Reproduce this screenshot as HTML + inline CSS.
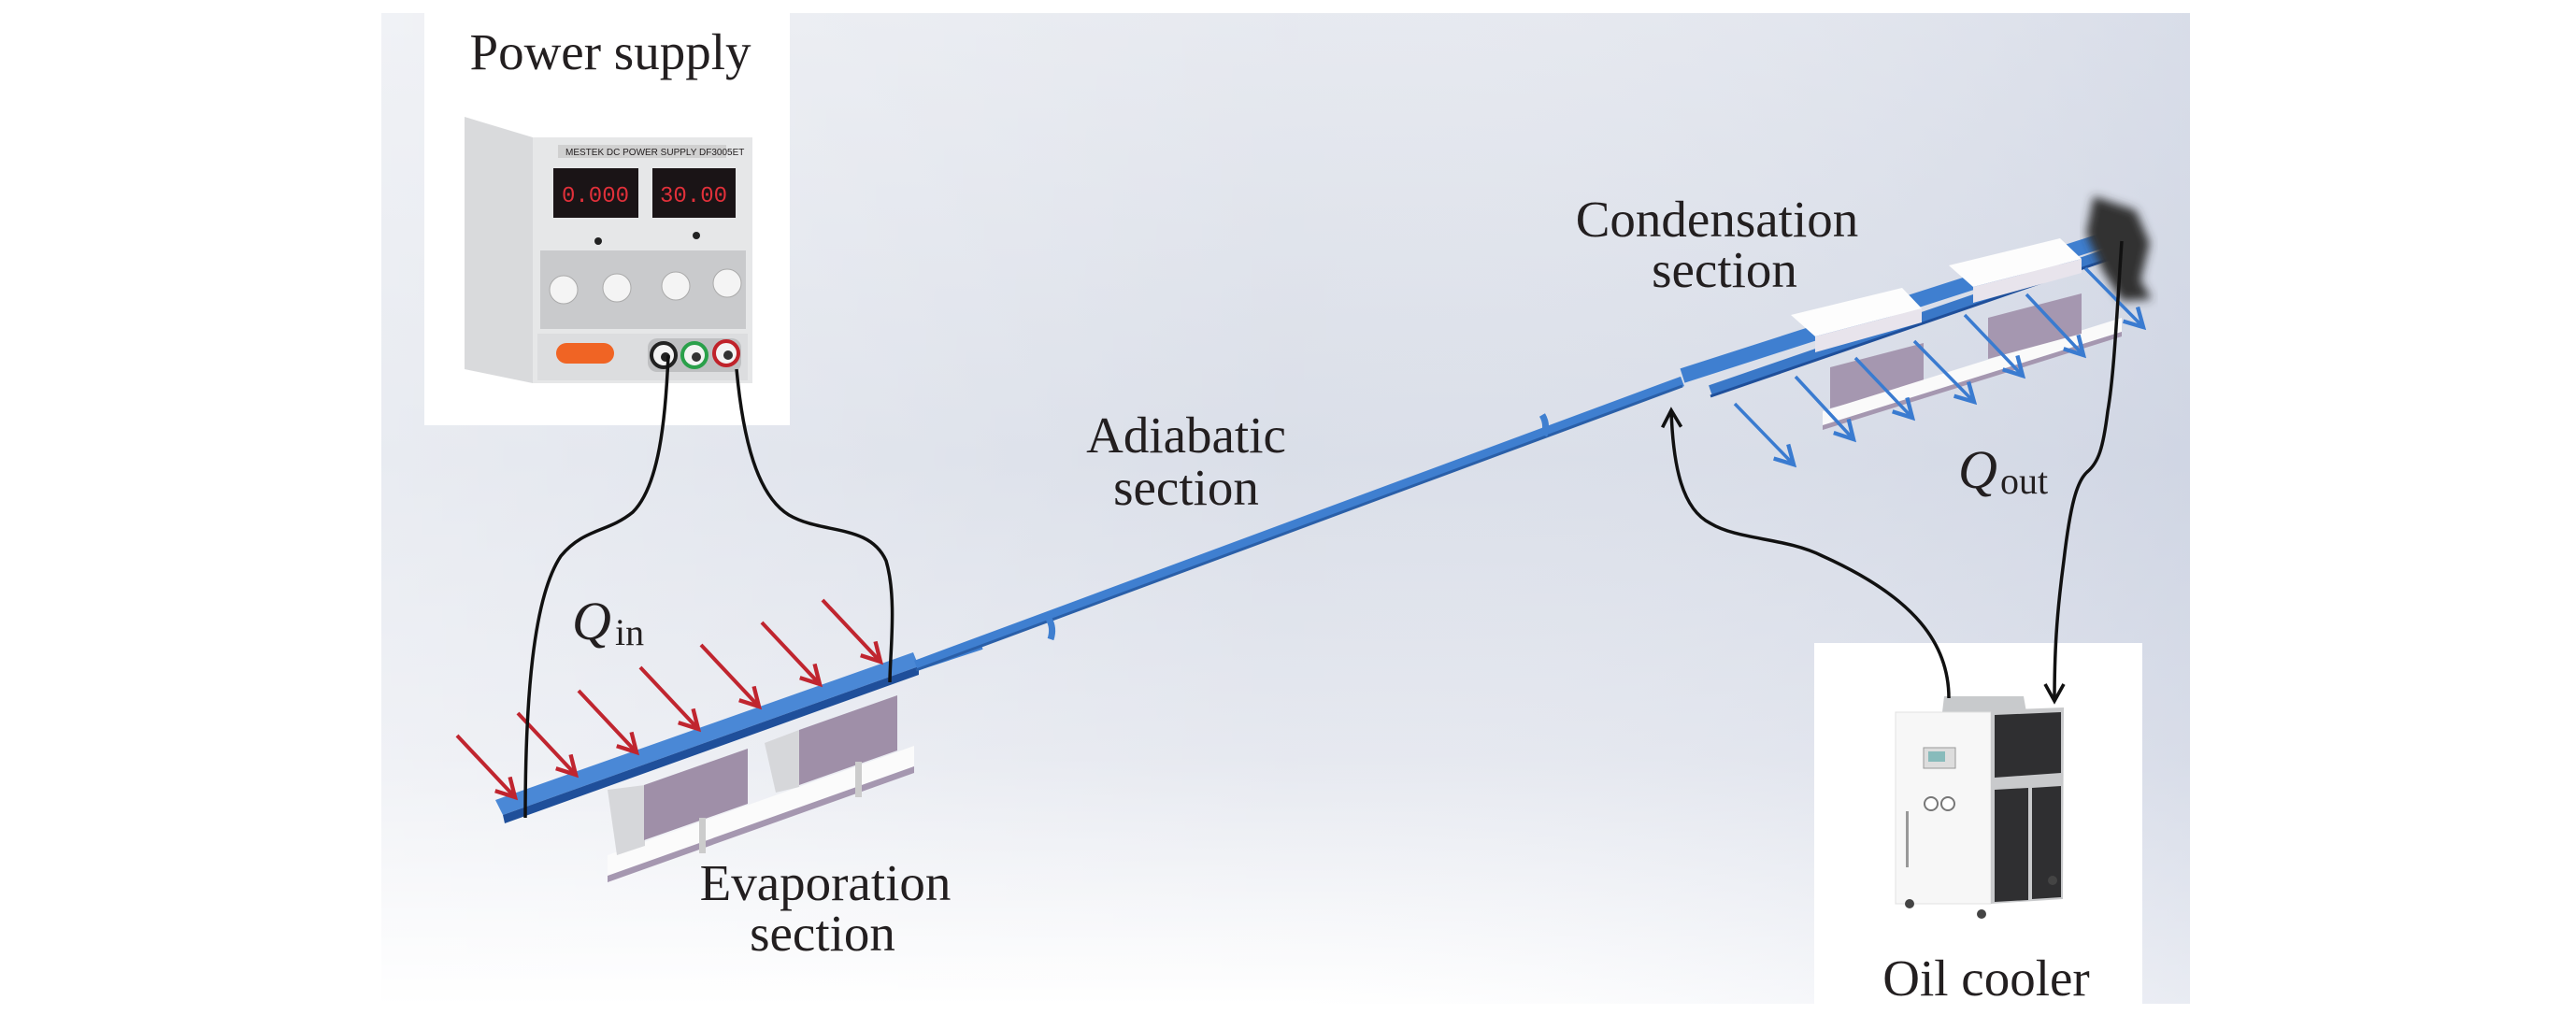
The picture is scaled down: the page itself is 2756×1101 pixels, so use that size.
<!DOCTYPE html>
<html><head><meta charset="utf-8"><style>
html,body{margin:0;padding:0;background:#fff}
svg{display:block}
text{font-family:"Liberation Serif",serif;fill:#231f20}
</style></head><body>
<svg width="2756" height="1101" viewBox="0 0 2756 1101" xmlns="http://www.w3.org/2000/svg">
<defs>
<linearGradient id="bg" x1="0" y1="0" x2="0" y2="1">
<stop offset="0" stop-color="#e4e7ee"/><stop offset="0.45" stop-color="#d6dbe6"/><stop offset="0.75" stop-color="#e3e6ee"/><stop offset="1" stop-color="#ffffff"/>
</linearGradient>
<linearGradient id="bg2" x1="0" y1="0" x2="1" y2="0">
<stop offset="0" stop-color="#ffffff" stop-opacity="0.45"/><stop offset="0.5" stop-color="#ffffff" stop-opacity="0.1"/><stop offset="1" stop-color="#c7cee0" stop-opacity="0.4"/>
</linearGradient>
<marker id="ar" viewBox="0 0 12 12" refX="10" refY="6" markerWidth="26" markerHeight="26" markerUnits="userSpaceOnUse" orient="auto"><path d="M1,1 L10,6 L1,11" fill="none" stroke="#c0252f" stroke-width="2"/></marker>
<marker id="ab" viewBox="0 0 12 12" refX="10" refY="6" markerWidth="26" markerHeight="26" markerUnits="userSpaceOnUse" orient="auto"><path d="M1,1 L10,6 L1,11" fill="none" stroke="#3a7bd0" stroke-width="2"/></marker>
<marker id="ak" viewBox="0 0 12 12" refX="10" refY="6" markerWidth="24" markerHeight="24" markerUnits="userSpaceOnUse" orient="auto"><path d="M1,1 L10,6 L1,11" fill="none" stroke="#111" stroke-width="1.8"/></marker>
<filter id="blur"><feGaussianBlur stdDeviation="5"/></filter>
</defs>
<rect x="408" y="14" width="1935" height="1060" fill="url(#bg)"/>
<rect x="408" y="14" width="1935" height="1060" fill="url(#bg2)"/>

<!-- power supply box -->
<rect x="454" y="0" width="391" height="455" fill="#fff"/>
<text x="653" y="74" font-size="55" text-anchor="middle">Power supply</text>
<polygon points="497,125 570,147 570,410 497,395" fill="#d9dadc"/>
<rect x="570" y="147" width="235" height="263" fill="#e6e7e8"/>
<rect x="597" y="155" width="180" height="14" fill="#d0d0d0"/>
<text x="605" y="166" font-size="10" style="font-family:'Liberation Sans',sans-serif">MESTEK DC POWER SUPPLY DF3005ET</text>
<rect x="592" y="180" width="91" height="53" fill="#1a1416"/>
<rect x="698" y="180" width="89" height="53" fill="#1a1416"/>
<text x="637" y="216" font-size="24" text-anchor="middle" style="font-family:'Liberation Mono',monospace;fill:#e0303a">0.000</text>
<text x="742" y="216" font-size="24" text-anchor="middle" style="font-family:'Liberation Mono',monospace;fill:#e0303a">30.00</text>
<circle cx="640" cy="258" r="4" fill="#222"/><circle cx="745" cy="252" r="4" fill="#222"/>
<rect x="578" y="268" width="220" height="84" fill="#c9cacc"/>
<circle cx="603" cy="310" r="15" fill="#f4f4f4" stroke="#aaa"/><circle cx="660" cy="308" r="15" fill="#f4f4f4" stroke="#aaa"/>
<circle cx="723" cy="306" r="15" fill="#f4f4f4" stroke="#aaa"/><circle cx="778" cy="303" r="15" fill="#f4f4f4" stroke="#aaa"/>
<rect x="575" y="357" width="225" height="50" fill="#dcdddf"/>
<rect x="595" y="367" width="62" height="22" rx="11" fill="#f06424"/>
<rect x="693" y="362" width="100" height="36" rx="10" fill="#bfc0c2"/>
<circle cx="710" cy="380" r="13" fill="#f4f4f4" stroke="#222" stroke-width="4"/>
<circle cx="743" cy="380" r="13" fill="#f4f4f4" stroke="#2aa04a" stroke-width="4"/>
<circle cx="777" cy="378" r="13" fill="#f4f4f4" stroke="#c0222a" stroke-width="4"/>
<circle cx="712" cy="382" r="5" fill="#222"/><circle cx="745" cy="382" r="5" fill="#333"/><circle cx="779" cy="380" r="5" fill="#333"/>

<!-- oil cooler box -->
<rect x="1941" y="688" width="351" height="413" fill="#fff"/>
<polygon points="2080,745 2165,745 2168,762 2078,762" fill="#c8cacc"/>
<rect x="2028" y="762" width="102" height="205" fill="#f7f7f7" stroke="#e0e0e0"/>
<polygon points="2130,760 2208,757 2207,962 2130,967" fill="#c9cacc"/>
<polygon points="2134,765 2205,762 2205,827 2134,832" fill="#2f2f31"/>
<polygon points="2134,845 2170,843 2170,963 2134,965" fill="#2f2f31"/>
<polygon points="2174,843 2205,841 2205,960 2174,962" fill="#2f2f31"/>
<rect x="2058" y="800" width="34" height="22" fill="#ddd" stroke="#999"/>
<rect x="2063" y="804" width="18" height="11" fill="#8bb"/>
<circle cx="2066" cy="860" r="7" fill="#fff" stroke="#777" stroke-width="2"/><circle cx="2084" cy="860" r="7" fill="#fff" stroke="#777" stroke-width="2"/>
<rect x="2039" y="868" width="3" height="60" fill="#999"/>
<circle cx="2043" cy="967" r="5" fill="#444"/><circle cx="2120" cy="978" r="5" fill="#444"/><circle cx="2196" cy="942" r="5" fill="#444"/>
<text x="2125" y="1065" font-size="55" text-anchor="middle">Oil cooler</text>

<!-- evaporation supports -->
<polygon points="650,915 978,798 978,820 650,937" fill="#fbfbfb"/>
<polygon points="650,937 978,820 978,827 650,944" fill="#a597b0"/>
<polygon points="650,845 690,840 690,905 660,915" fill="#d6d7da"/>
<polygon points="689,840 800,801 800,860 689,899" fill="#9f8fa8"/>
<polygon points="818,795 855,781 855,842 830,848" fill="#d6d7da"/>
<polygon points="855,781 960,744 960,803 855,840" fill="#9f8fa8"/>
<rect x="748" y="875" width="7" height="38" fill="#ccc"/><rect x="915" y="815" width="7" height="38" fill="#ccc"/>
<!-- evaporation bar -->
<polygon points="530,856 977,698 983,713 538,872" fill="#4a88d6"/>
<polygon points="538,872 983,713 983,722 540,881" fill="#1f4f9a"/>
<line x1="983" y1="712" x2="1050" y2="690" stroke="#3f7fd0" stroke-width="10"/>

<!-- adiabatic tube -->
<line x1="980" y1="712" x2="1800" y2="408" stroke="#3f7fd0" stroke-width="11"/>
<line x1="980" y1="717" x2="1800" y2="413" stroke="#2a5fa8" stroke-width="3"/>
<path d="M1122,662 q6,10 2,22" stroke="#3f7fd0" stroke-width="7" fill="none"/>
<path d="M1650,444 q6,10 2,22" stroke="#3f7fd0" stroke-width="7" fill="none"/>

<!-- condensation -->
<polygon points="1958,393 2058,367 2058,410 1958,437" fill="#a597b0"/>
<polygon points="1950,440 2270,340 2270,355 1950,455" fill="#fafafa"/>
<polygon points="1950,455 2270,355 2270,360 1950,460" fill="#a597b0"/>
<polygon points="2127,340 2227,314 2227,357 2127,384" fill="#a597b0"/>
<line x1="1800" y1="402" x2="2266" y2="252" stroke="#3f7fd0" stroke-width="16"/>
<line x1="1830" y1="418" x2="2266" y2="268" stroke="#3a78c8" stroke-width="12"/>
<line x1="1830" y1="424" x2="2266" y2="274" stroke="#1f4f9a" stroke-width="3"/>
<polygon points="1916,337 2035,308 2056,330 1942,360" fill="#fdfdfd"/>
<polygon points="1942,360 2056,330 2056,345 1942,377" fill="#e8e4ec"/>
<polygon points="2085,284 2204,255 2227,277 2111,307" fill="#fdfdfd"/>
<polygon points="2111,307 2227,277 2227,292 2111,324" fill="#e8e4ec"/>
<path d="M2240,210 L2285,225 L2300,260 L2290,300 L2302,320 L2270,322 L2250,290 L2232,250 Z" fill="#333" filter="url(#blur)"/>

<!-- red arrows -->
<g stroke="#c0252f" stroke-width="4" marker-end="url(#ar)">
<line x1="489" y1="787" x2="551" y2="853"/>
<line x1="554" y1="763" x2="616" y2="829"/>
<line x1="619" y1="739" x2="681" y2="805"/>
<line x1="685" y1="714" x2="747" y2="780"/>
<line x1="750" y1="690" x2="812" y2="756"/>
<line x1="815" y1="666" x2="877" y2="732"/>
<line x1="880" y1="642" x2="942" y2="708"/>
</g>
<!-- blue arrows -->
<g stroke="#3a7bd0" stroke-width="3.5" marker-end="url(#ab)">
<line x1="1856" y1="432" x2="1919" y2="497"/>
<line x1="1921" y1="403" x2="1983" y2="470"/>
<line x1="1985" y1="383" x2="2046" y2="447"/>
<line x1="2048" y1="365" x2="2112" y2="430"/>
<line x1="2102" y1="337" x2="2164" y2="402"/>
<line x1="2168" y1="315" x2="2229" y2="380"/>
<line x1="2231" y1="287" x2="2293" y2="350"/>
</g>

<!-- wires -->
<g fill="none" stroke="#111" stroke-width="3.5">
<path d="M715,380 C712,450 705,520 677,548 C650,570 625,565 600,595 C570,640 562,750 562,875"/>
<path d="M788,395 C795,470 810,530 844,551 C880,572 930,560 948,600 C960,640 952,700 952,730"/>
<path d="M2085,747 C2085,690 2050,640 1950,595 C1910,575 1860,578 1830,560 C1800,545 1790,500 1788,439" marker-end="url(#ak)"/>
<path d="M2270,258 C2265,330 2262,400 2255,440 C2250,480 2245,495 2233,505 C2222,515 2215,540 2208,600 C2200,660 2198,700 2198,750" marker-end="url(#ak)"/>
</g>

<!-- labels -->
<text x="1269" y="484" font-size="55" text-anchor="middle">Adiabatic</text>
<text x="1269" y="540" font-size="55" text-anchor="middle">section</text>
<text x="1837" y="253" font-size="55" text-anchor="middle">Condensation</text>
<text x="1845" y="307" font-size="55" text-anchor="middle">section</text>
<text x="883" y="963" font-size="55" text-anchor="middle">Evaporation</text>
<text x="880" y="1017" font-size="55" text-anchor="middle">section</text>
<text x="612" y="684" font-size="58" font-style="italic">Q</text><text x="658" y="690" font-size="40">in</text>
<text x="2095" y="522" font-size="58" font-style="italic">Q</text><text x="2140" y="528" font-size="40">out</text>
</svg>
</body></html>
